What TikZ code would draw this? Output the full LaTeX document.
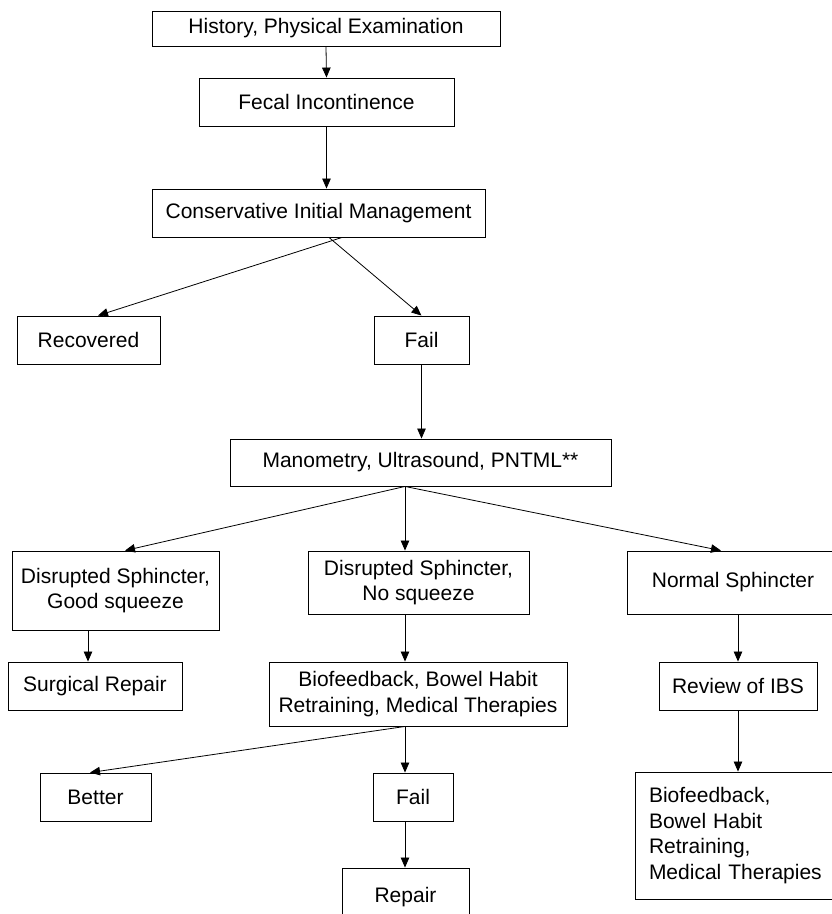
\documentclass[tikz,border=0pt]{standalone}
\usepackage{fontspec}
\setmainfont{Liberation Sans}
\usetikzlibrary{arrows.meta}
\begin{document}
\begin{tikzpicture}[x=1pt, y=-1pt, >={Triangle[length=10pt, width=8.5pt]}]
\tikzstyle{caixa}=[draw=black, line width=0.9pt, inner sep=0, align=center, font=\fontsize{21}{25.5}\selectfont]
\tikzstyle{seta}=[->, line width=0.8pt]
\useasboundingbox (0,0) rectangle (832,914);
\node[caixa, minimum width=348, minimum height=35] (hist) at(326,28.5){History, Physical Examination};
\node[caixa, minimum width=255, minimum height=48] (fecal) at(326.5,102){Fecal Incontinence};
\node[caixa, minimum width=333, minimum height=48] (cim) at(318.5,213){Conservative Initial Management};
\node[caixa, minimum width=143, minimum height=48] (recov) at(88.5,340){Recovered};
\node[caixa, minimum width=95, minimum height=48] (fail1) at(421.5,340){Fail};
\node[caixa, minimum width=381, minimum height=47] (mano) at(420.5,462.5){Manometry, Ultrasound, PNTML**};
\node[caixa, minimum width=207, minimum height=79] (dsgood) at(115.5,590.5){Disrupted Sphincter,\\Good squeeze};
\node[caixa, minimum width=221, minimum height=63] (dsno) at(418.5,582.5){Disrupted Sphincter,\\No squeeze};
\node[caixa, minimum width=212, minimum height=63] (normal) at(733,582.5){Normal Sphincter};
\node[caixa, minimum width=174, minimum height=48] (surg) at(95,686){Surgical Repair};
\node[caixa, minimum width=298, minimum height=64] (bio) at(418,694){Biofeedback, Bowel Habit\\Retraining, Medical Therapies};
\node[caixa, minimum width=158, minimum height=48] (ibs) at(738,686){Review of IBS};
\node[caixa, minimum width=111, minimum height=48] (better) at(95.5,797){Better};
\node[caixa, minimum width=80, minimum height=48] (fail2) at(413,797){Fail};
\node[caixa, minimum width=127, minimum height=58] (repair) at(405.5,897){Repair};
\node[caixa, align=left, inner xsep=14, text width=186, minimum height=127] (bio2) at(742,835.5){Biofeedback,\\Bowel Habit\\Retraining,\\Medical Therapies};
\draw[seta](hist.south)--(fecal.north);
\draw[seta](fecal.south)--(fecal.south |- cim.north);
\draw[seta]([xshift=23.5]cim.south)--([xshift=9.5]recov.north);
\draw[seta]([xshift=10.5]cim.south)--(fail1.north);
\draw[seta](fail1.south)--(fail1.south |- mano.north);
\draw[seta]([xshift=-15.5]mano.south)--([xshift=9.5]dsgood.north);
\draw[seta]([xshift=-15.5]mano.south)--([xshift=-13.5]dsno.north);
\draw[seta]([xshift=-15.5]mano.south)--([xshift=-12]normal.north);
\draw[seta]([xshift=-27.5]dsgood.south)--([xshift=-27.5]dsgood.south |- surg.north);
\draw[seta]([xshift=-13.5]dsno.south)--([xshift=-13.5]dsno.south |- bio.north);
\draw[seta](ibs.north |- normal.south)--(ibs.north);
\draw[seta]([xshift=-13]bio.south)--([xshift=-5.5]better.north);
\draw[seta]([xshift=-13]bio.south)--([xshift=-13]bio.south |- fail2.north);
\draw[seta]([xshift=-8]fail2.south)--([xshift=-8]fail2.south |- repair.north);
\draw[seta](ibs.south)--(ibs.south |- bio2.north);
\end{tikzpicture}
\end{document}
